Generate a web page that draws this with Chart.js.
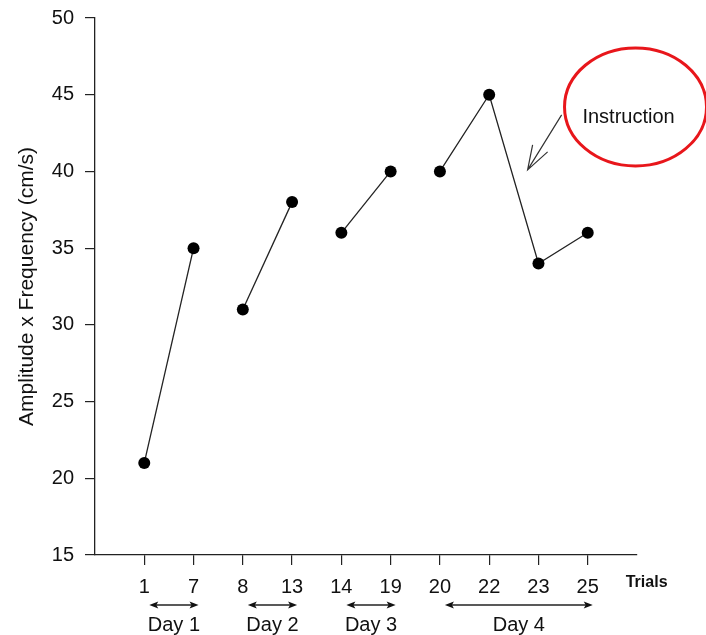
<!DOCTYPE html>
<html>
<head>
<meta charset="utf-8">
<script src="https://cdn.jsdelivr.net/npm/chart.js@4"></script>
<style>
  html, body { margin: 0; padding: 0; background: #fff; }
  #wrap { width: 706px; height: 635px; }
</style>
</head>
<body>
<div id="wrap"><canvas id="myChart"></canvas></div>
<script>
// trial labels on the x axis, one per measured trial
const trials = ['1', '7', '8', '13', '14', '19', '20', '22', '23', '25'];
// amplitude x frequency (cm/s)
const values = [21, 35, 31, 38, 36, 40, 40, 45, 34, 36];
// which trials (by index) belong to each day
const dayNames = ['Day 1', 'Day 2', 'Day 3', 'Day 4'];
const dayStart = [0, 2, 4, 6];
const dayEnd = [1, 3, 5, 9];
const yTicks = [15, 20, 25, 30, 35, 40, 45, 50];

const FONT = "'Liberation Sans', Arial, sans-serif";

const datasets = dayNames.map(function (name, d) {
    let pts = [];
    for (let i = dayStart[d]; i <= dayEnd[d]; i++) {
        pts.push({ x: i + 1, y: values[i] });
    }
    return {
        label: name,
        data: pts,
        borderColor: '#222',
        borderWidth: 1.3,
        pointRadius: 6,
        pointBackgroundColor: '#000',
        pointBorderColor: '#000',
        pointBorderWidth: 0,
        tension: 0
    };
});

function arrowHead(c, x, y, dir) {
    c.beginPath();
    c.moveTo(x, y);
    c.lineTo(x - dir * 9, y - 3.5);
    c.lineTo(x - dir * 7, y);
    c.lineTo(x - dir * 9, y + 3.5);
    c.closePath();
    c.fill();
}

const extras = {
    id: 'extras',
    afterDraw(chart) {
        const c = chart.ctx;
        const xs = chart.scales.x;
        const ys = chart.scales.y;
        c.save();
        c.fillStyle = '#111';
        c.strokeStyle = '#222';

        // "Trials" label
        c.font = 'bold 16px ' + FONT;
        c.textAlign = 'left';
        c.textBaseline = 'middle';
        c.fillText('Trials', xs.getPixelForValue(10) + 38, ys.bottom + 28);

        // day arrows and labels
        const arrowY = ys.bottom + 50;
        c.lineWidth = 1.3;
        c.font = '20px ' + FONT;
        c.textAlign = 'center';
        for (let d = 0; d < dayNames.length; d++) {
            const x1 = xs.getPixelForValue(dayStart[d] + 1) + 5;
            const x2 = xs.getPixelForValue(dayEnd[d] + 1) + 5;
            c.beginPath();
            c.moveTo(x1 + 4, arrowY);
            c.lineTo(x2 - 4, arrowY);
            c.stroke();
            arrowHead(c, x1, arrowY, -1);
            arrowHead(c, x2, arrowY, 1);
            c.fillText(dayNames[d], (x1 + x2) / 2, arrowY + 20);
        }

        // red ellipse with "Instruction"
        const ex = xs.getPixelForValue(10.97);
        const ey = ys.getPixelForValue(44.2);
        c.strokeStyle = '#e8161b';
        c.lineWidth = 3;
        c.beginPath();
        c.ellipse(ex, ey, 71, 59, 0, 0, Math.PI * 2);
        c.stroke();
        c.fillStyle = '#111';
        c.font = '20px ' + FONT;
        c.fillText('Instruction', ex - 7, ey + 10);

        // arrow pointing at the drop after trial 22
        const tx = xs.getPixelForValue(8.78);
        const ty = ys.getPixelForValue(40.1);
        c.strokeStyle = '#333';
        c.lineWidth = 1.2;
        c.beginPath();
        c.moveTo(tx + 34, ty - 55);
        c.lineTo(tx, ty);
        c.moveTo(tx + 5, ty - 25);
        c.lineTo(tx, ty);
        c.lineTo(tx + 20, ty - 18);
        c.stroke();
        c.restore();
    }
};

const ctx = document.getElementById('myChart');
new Chart(ctx, {
    type: 'line',
    data: { datasets: datasets },
    plugins: [extras],
    options: {
        responsive: true,
        maintainAspectRatio: false,
        animation: false,
        events: [],
        layout: { padding: { top: 18, right: 69, left: 0, bottom: 0 } },
        plugins: { legend: { display: false }, tooltip: { enabled: false } },
        scales: {
            x: {
                type: 'linear',
                min: 0,
                max: 11,
                afterBuildTicks: function (s) {
                    s.ticks = trials.map(function (t, i) { return { value: i + 1 }; });
                },
                afterFit: function (s) { s.height = 80; s.paddingLeft = 0; s.paddingRight = 0; },
                ticks: {
                    autoSkip: false,
                    maxRotation: 0,
                    padding: 10,
                    color: '#111',
                    font: { family: FONT, size: 20 },
                    callback: function (v) { return trials[v - 1] || ''; }
                },
                grid: { drawOnChartArea: false, tickLength: 10, color: '#222', lineWidth: 1.2 },
                border: { color: '#222', width: 1.3 }
            },
            y: {
                min: 15,
                max: 50,
                afterBuildTicks: function (s) {
                    s.ticks = yTicks.map(function (v) { return { value: v }; });
                },
                afterFit: function (s) { s.width = 95; s.paddingTop = 0; s.paddingBottom = 0; },
                ticks: {
                    padding: 11,
                    color: '#111',
                    font: { family: FONT, size: 20 }
                },
                title: {
                    display: true,
                    text: 'Amplitude x Frequency (cm/s)',
                    color: '#111',
                    font: { family: FONT, size: 21 },
                    padding: { top: 15, bottom: 0 }
                },
                grid: { drawOnChartArea: false, tickLength: 10, color: '#222', lineWidth: 1.2 },
                border: { color: '#222', width: 1.3 }
            }
        }
    }
});
</script>
</body>
</html>
